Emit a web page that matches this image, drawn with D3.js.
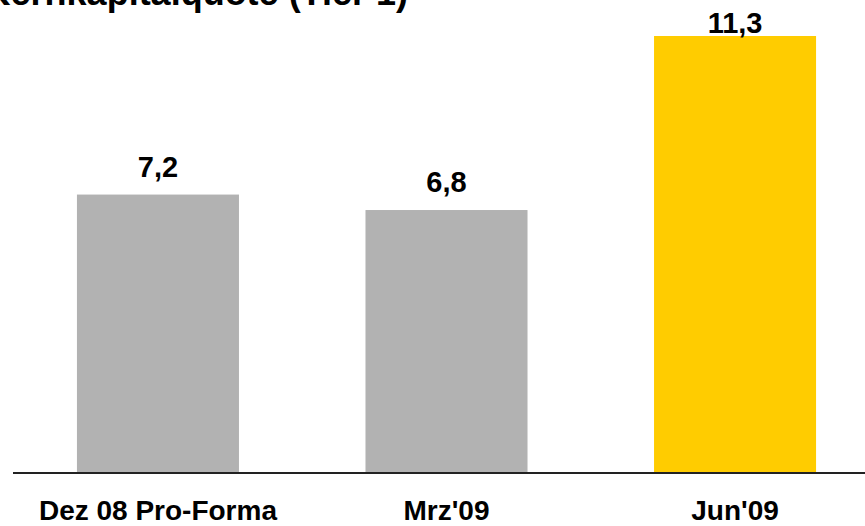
<!DOCTYPE html>
<html>
<head>
<meta charset="utf-8">
<script src="https://cdn.jsdelivr.net/npm/d3@7"></script>
<style>
  html, body { margin: 0; padding: 0; background: #fff; }
  svg { display: block; }
  text { font-family: "Liberation Sans", Arial, sans-serif; font-weight: bold; fill: #000; }
</style>
</head>
<body>
<div id="chart"></div>
<script>
const title = "Kernkapitalquote (Tier 1)";
const categories = ["Dez 08 Pro-Forma", "Mrz'09", "Jun'09"];
const values = [7.2, 6.8, 11.3];
const valueLabels = ["7,2", "6,8", "11,3"];
const barColors = ["#b2b2b2", "#b2b2b2", "#ffcc00"];

const W = 865, H = 526;
const svg = d3.select("#chart").append("svg").attr("width", W).attr("height", H);

const x = d3.scaleBand().domain(categories).range([13.75, 879.25])
  .paddingInner(0.4385).paddingOuter(0.219);
const y = d3.scaleLinear().domain([0, 11.3]).range([473, 36]);

// title (partly clipped above the view, as in the reference)
svg.append("text").attr("x", 408).attr("y", 5).attr("text-anchor", "end")
  .style("font-size", "36px").text(title);

// bars
svg.selectAll("rect.bar").data(values).enter().append("rect")
  .attr("class", "bar")
  .attr("x", (d, i) => x(categories[i]))
  .attr("width", x.bandwidth())
  .attr("y", d => y(d))
  .attr("height", d => y(0) - y(d))
  .attr("fill", (d, i) => barColors[i]);

// baseline axis
const axis = svg.append("g").attr("transform", `translate(0,${y(0)})`)
  .call(d3.axisBottom(x).tickSize(0).tickPadding(0).tickFormat(""));
axis.select(".domain").attr("d", "M13,0H865").attr("stroke", "#222").attr("stroke-width", 2);

// value labels
svg.selectAll("text.val").data(values).enter().append("text")
  .attr("class", "val")
  .attr("x", (d, i) => x(categories[i]) + x.bandwidth() / 2)
  .attr("y", d => Math.max(y(d) - 18, 33))
  .attr("text-anchor", "middle")
  .style("font-size", "29px")
  .text((d, i) => valueLabels[i]);

// category labels
svg.selectAll("text.cat").data(categories).enter().append("text")
  .attr("class", "cat")
  .attr("x", d => x(d) + x.bandwidth() / 2)
  .attr("y", 520)
  .attr("text-anchor", "middle")
  .style("font-size", "28px")
  .text(d => d);
</script>
</body>
</html>
